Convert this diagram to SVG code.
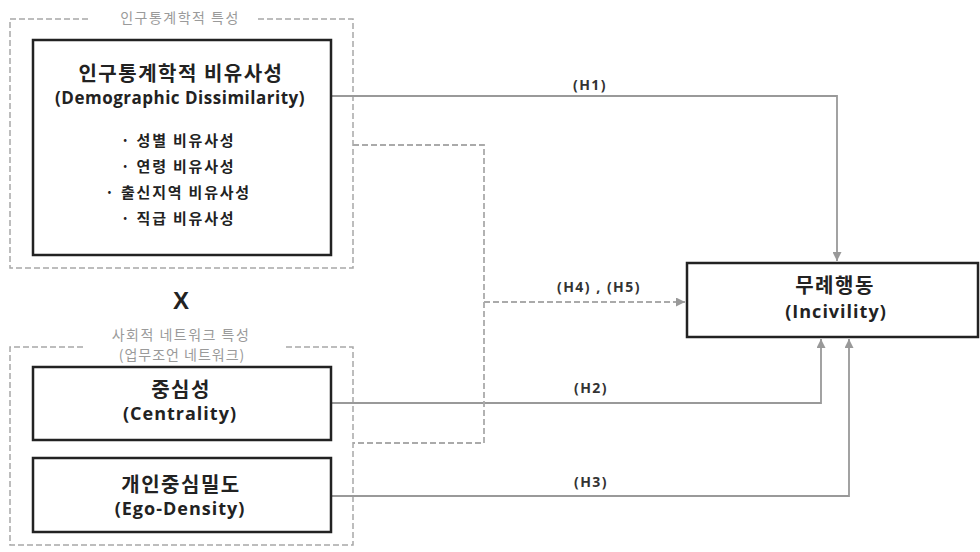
<svg xmlns="http://www.w3.org/2000/svg" width="980" height="552" viewBox="0 0 980 552">
<defs>
<style>
text{font-family:"Noto Sans CJK KR","Noto Sans",sans-serif;text-anchor:middle;fill:#222;font-weight:bold}
.grp{fill:none;stroke:#a8a8a8;stroke-width:1.5;stroke-dasharray:6 3}
.node{fill:#fff;stroke:#222;stroke-width:2.5}
.cap{fill:#9a9a9a;font-weight:normal;font-size:14px;letter-spacing:1.5px}
.t{font-size:20px;letter-spacing:1.5px}
.e{font-family:"Open Sans","Noto Sans",sans-serif;font-size:18px;letter-spacing:1px}
.b{font-size:15px;letter-spacing:1.8px}
.lbl{font-family:"Open Sans","Noto Sans",sans-serif;font-size:14px;letter-spacing:1.5px;fill:#333}
.ln{fill:none;stroke:#999;stroke-width:1.8}
.dl{fill:none;stroke:#aaa;stroke-width:1.8;stroke-dasharray:6 3}
</style>
<marker id="ah" viewBox="0 0 10 10" refX="10" refY="5" markerWidth="5" markerHeight="5" orient="auto"><path d="M0,0 L10,5 L0,10 z" fill="#999"/></marker>
</defs>
<rect width="980" height="552" fill="#fff"/>
<g id="group-demo">
<path class="grp" d="M88,19 H10 V268 H353 V19 H258"/>
<text class="cap" x="180" y="23">인구통계학적 특성</text>
</g>
<g id="group-network">
<path class="grp" d="M83,347 H10 V545 H353 V347 H283"/>
<text class="cap" x="181" y="340">사회적 네트워크 특성</text>
<text class="cap" x="182" y="360" style="letter-spacing:1px">(업무조언 네트워크)</text>
</g>
<g id="connectors">
<path class="ln" d="M331,96 H837 V261" marker-end="url(#ah)"/>
<path class="ln" d="M331,403 H821 V339" marker-end="url(#ah)"/>
<path class="ln" d="M331,496 H849 V339" marker-end="url(#ah)"/>
<path class="dl" d="M353,145 H484 V443 H353"/>
<path class="dl" d="M484,302 H685" marker-end="url(#ah)"/>
<text class="lbl" x="590" y="90">(H1)</text>
<text class="lbl" x="599" y="292">(H4) , (H5)</text>
<text class="lbl" x="591" y="393">(H2)</text>
<text class="lbl" x="591" y="487">(H3)</text>
</g>
<g id="node-demographic">
<rect class="node" x="33" y="40" width="298" height="215"/>
<text class="t" x="181" y="81">인구통계학적 비유사성</text>
<text class="e" x="180" y="104" style="font-size:17px;letter-spacing:0.5px">(Demographic Dissimilarity)</text>
<text class="b" x="178" y="146">· 성별 비유사성</text>
<text class="b" x="178" y="172">· 연령 비유사성</text>
<text class="b" x="178" y="198">· 출신지역 비유사성</text>
<text class="b" x="178" y="224">· 직급 비유사성</text>
</g>
<g id="node-x">
<text x="181" y="309" style="font-size:24px;font-family:'Liberation Sans',sans-serif">X</text>
</g>
<g id="node-centrality">
<rect class="node" x="33" y="367" width="298" height="73"/>
<text class="t" x="181" y="397">중심성</text>
<text class="e" x="180" y="420">(Centrality)</text>
</g>
<g id="node-ego">
<rect class="node" x="33" y="458" width="298" height="74"/>
<text class="t" x="181" y="492">개인중심밀도</text>
<text class="e" x="180" y="515">(Ego-Density)</text>
</g>
<g id="node-incivility">
<rect class="node" x="687" y="263" width="291" height="74"/>
<text class="t" x="835" y="293">무례행동</text>
<text class="e" x="836" y="318">(Incivility)</text>
</g>
</svg>
